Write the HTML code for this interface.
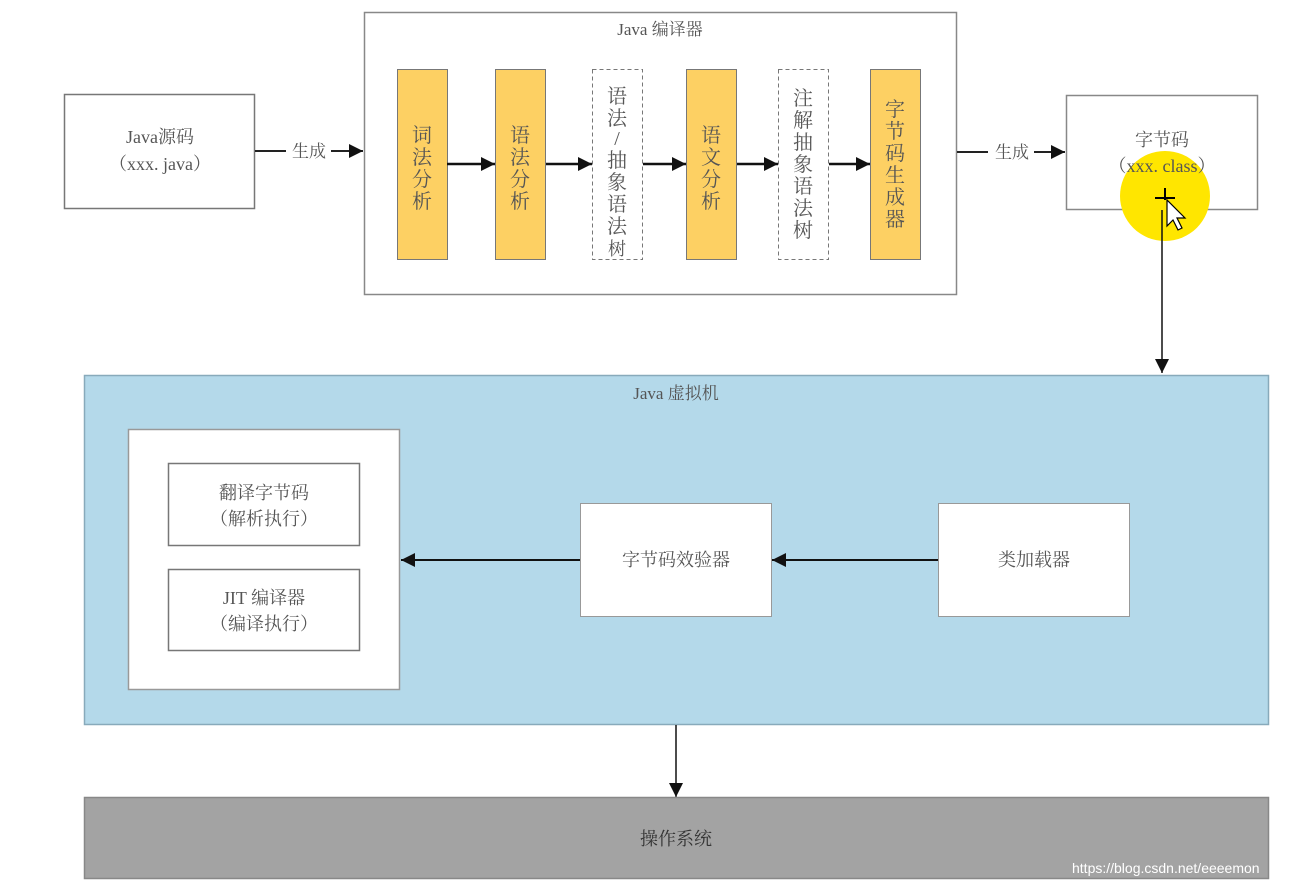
<!DOCTYPE html>
<html><head><meta charset="utf-8">
<style>
html,body{margin:0;padding:0;background:#fff;}
svg{display:block;}
text{font-family:"Liberation Serif","Noto Serif CJK SC",serif;fill:#555;}
</style></head>
<body>
<svg width="1294" height="886" viewBox="0 0 1294 886" xmlns="http://www.w3.org/2000/svg">
<defs>
<marker id="b" viewBox="0 0 10 10" refX="10" refY="5" markerWidth="14" markerHeight="14" markerUnits="userSpaceOnUse" orient="auto">
<path d="M0,0 L10,5 L0,10 z" fill="#111"/></marker>
</defs>

<rect x="64.5" y="94.5" width="190" height="114" fill="#fff" stroke="#777" stroke-width="1.5"/>
<text x="160" y="143" font-size="18" text-anchor="middle">Java源码</text>
<text x="160" y="170" font-size="18" text-anchor="middle">（xxx. java）</text>
<line x1="255" y1="151" x2="286" y2="151" stroke="#222" stroke-width="2"/>
<text x="309" y="157" font-size="17" text-anchor="middle">生成</text>
<line x1="331" y1="151" x2="363" y2="151" stroke="#222" stroke-width="2" marker-end="url(#b)"/>

<rect x="364.5" y="12.5" width="592" height="282" fill="#fff" stroke="#888" stroke-width="1.5"/>
<text x="660" y="35" font-size="17" text-anchor="middle">Java 编译器</text>

<g font-size="20" text-anchor="middle">
<rect x="397.5" y="69.5" width="50" height="190" fill="#fdd063" stroke="#777" stroke-width="1"/>
<text x="422" y="142">词</text><text x="422" y="164">法</text><text x="422" y="186">分</text><text x="422" y="208">析</text>

<rect x="495.5" y="69.5" width="50" height="190" fill="#fdd063" stroke="#777" stroke-width="1"/>
<text x="520" y="142">语</text><text x="520" y="164">法</text><text x="520" y="186">分</text><text x="520" y="208">析</text>

<rect x="592.5" y="69.5" width="50" height="190" fill="#fff" stroke="#777" stroke-width="1" stroke-dasharray="4,3"/>
<text x="617" y="103">语</text><text x="617" y="125">法</text><text x="617" y="145">/</text><text x="617" y="167">抽</text><text x="617" y="189">象</text><text x="617" y="211">语</text><text x="617" y="233">法</text><text x="617" y="255" font-size="18">树</text>

<rect x="686.5" y="69.5" width="50" height="190" fill="#fdd063" stroke="#777" stroke-width="1"/>
<text x="711" y="142">语</text><text x="711" y="164">文</text><text x="711" y="186">分</text><text x="711" y="208">析</text>

<rect x="778.5" y="69.5" width="50" height="190" fill="#fff" stroke="#777" stroke-width="1" stroke-dasharray="4,3"/>
<text x="803" y="105">注</text><text x="803" y="127">解</text><text x="803" y="149">抽</text><text x="803" y="171">象</text><text x="803" y="193">语</text><text x="803" y="215">法</text><text x="803" y="237">树</text>

<rect x="870.5" y="69.5" width="50" height="190" fill="#fdd063" stroke="#777" stroke-width="1"/>
<text x="895" y="116">字</text><text x="895" y="138">节</text><text x="895" y="160">码</text><text x="895" y="182">生</text><text x="895" y="204">成</text><text x="895" y="226">器</text>
</g>

<g stroke="#111" stroke-width="2.5">
<line x1="447" y1="164" x2="495" y2="164" marker-end="url(#b)"/>
<line x1="546" y1="164" x2="592" y2="164" marker-end="url(#b)"/>
<line x1="643" y1="164" x2="686" y2="164" marker-end="url(#b)"/>
<line x1="737" y1="164" x2="778" y2="164" marker-end="url(#b)"/>
<line x1="829" y1="164" x2="870" y2="164" marker-end="url(#b)"/>
</g>

<line x1="957" y1="152" x2="988" y2="152" stroke="#222" stroke-width="2"/>
<text x="1012" y="158" font-size="17" text-anchor="middle">生成</text>
<line x1="1034" y1="152" x2="1065" y2="152" stroke="#222" stroke-width="2" marker-end="url(#b)"/>
<rect x="1066.5" y="95.5" width="191" height="114" fill="#fff" stroke="#888" stroke-width="1.5"/>
<circle cx="1165" cy="196" r="45" fill="#ffe600"/>
<text x="1162" y="146" font-size="18" text-anchor="middle">字节码</text>
<text x="1162" y="172" font-size="18" text-anchor="middle">（xxx. class）</text>
<line x1="1162" y1="210" x2="1162" y2="373" stroke="#111" stroke-width="1.5" marker-end="url(#b)"/>
<path d="M1167,200 l0,26 l6,-6 l5,10 l4,-2 l-5,-10 l8,0 z" fill="#fff" stroke="#000" stroke-width="1.2"/>
<path d="M1155,198 h20 M1165,188 v12" stroke="#000" stroke-width="2"/>

<rect x="84.5" y="375.5" width="1184" height="349" fill="#b4d9ea" stroke="#8ab" stroke-width="1.5"/>
<text x="676" y="399" font-size="17" text-anchor="middle">Java 虚拟机</text>
<rect x="128.5" y="429.5" width="271" height="260" fill="#fff" stroke="#999" stroke-width="1.5"/>
<rect x="168.5" y="463.5" width="191" height="82" fill="#fff" stroke="#777" stroke-width="1.5"/>
<text x="264" y="499" font-size="18" text-anchor="middle">翻译字节码</text>
<text x="264" y="525" font-size="18" text-anchor="middle">（解析执行）</text>
<rect x="168.5" y="569.5" width="191" height="81" fill="#fff" stroke="#777" stroke-width="1.5"/>
<text x="264" y="604" font-size="18" text-anchor="middle">JIT 编译器</text>
<text x="264" y="630" font-size="18" text-anchor="middle">（编译执行）</text>

<rect x="580.5" y="503.5" width="191" height="113" fill="#fff" stroke="#999" stroke-width="1"/>
<text x="676" y="566" font-size="18" text-anchor="middle">字节码效验器</text>
<rect x="938.5" y="503.5" width="191" height="113" fill="#fff" stroke="#999" stroke-width="1"/>
<text x="1034" y="566" font-size="18" text-anchor="middle">类加载器</text>
<line x1="938" y1="560" x2="772" y2="560" stroke="#111" stroke-width="2" marker-end="url(#b)"/>
<line x1="580" y1="560" x2="401" y2="560" stroke="#111" stroke-width="2" marker-end="url(#b)"/>

<line x1="676" y1="725" x2="676" y2="797" stroke="#111" stroke-width="1.5" marker-end="url(#b)"/>

<rect x="84.5" y="797.5" width="1184" height="81" fill="#a3a3a3" stroke="#888" stroke-width="1.5"/>
<text x="676" y="845" font-size="18" text-anchor="middle" style="fill:#333">操作系统</text>
<text x="1072" y="873" font-size="14" style="font-family:'Liberation Sans',sans-serif;fill:#fff">https://blog.csdn.net/eeeemon</text>
</svg>
</body></html>
